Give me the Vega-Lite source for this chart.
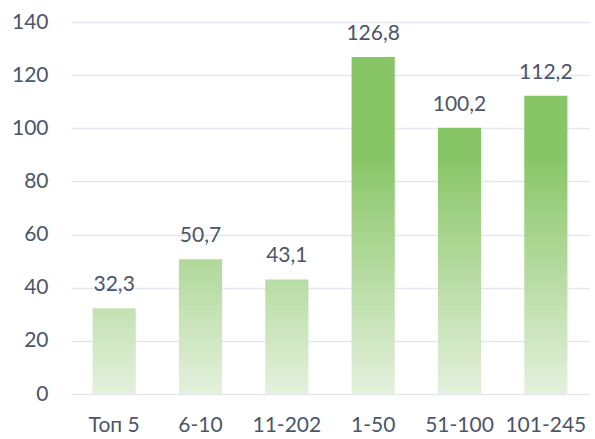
{
  "$schema": "https://vega.github.io/schema/vega-lite/v6.json",
  "width": 518,
  "height": 372,
  "autosize": {"type": "none"},
  "padding": {"left": 71, "top": 22, "right": 6, "bottom": 45},
  "background": "white",
  "config": {
    "view": {"stroke": null},
    "locale": {"number": {"decimal": ",", "thousands": " ", "grouping": [3], "currency": ["", ""]}},
    "font": "Lato"
  },
  "data": {
    "values": [
      {"cat": "Топ 5", "value": 32.3},
      {"cat": "6-10", "value": 50.7},
      {"cat": "11-202", "value": 43.1},
      {"cat": "1-50", "value": 126.8},
      {"cat": "51-100", "value": 100.2},
      {"cat": "101-245", "value": 112.2}
    ]
  },
  "encoding": {
    "x": {
      "field": "cat", "type": "nominal", "title": null,
      "sort": ["Топ 5", "6-10", "11-202", "1-50", "51-100", "101-245"],
      "scale": {"domain": ["Топ 5", "6-10", "11-202", "1-50", "51-100", "101-245"], "paddingInner": 0.5, "paddingOuter": 0.25},
      "axis": {"labelAngle": 0, "labelFontSize": 21, "labelColor": "#4b5669", "labelPadding": 20, "labelBaseline": "top", "ticks": false, "domain": false, "grid": false}
    },
    "y": {
      "field": "value", "type": "quantitative", "title": null,
      "scale": {"domain": [0, 140], "nice": false},
      "axis": {"values": [0, 20, 40, 60, 80, 100, 120, 140], "labelFontSize": 21, "labelColor": "#4b5669", "labelPadding": 23, "ticks": false, "domain": false, "gridColor": "#e4e8ee", "gridWidth": 1.5, "labelDy": -2}
    }
  },
  "layer": [
    {
      "transform": [{"filter": "datum.cat === 'Топ 5'"}],
      "mark": {"type": "bar", "color": {"gradient": "linear", "x1": 0, "y1": 1, "x2": 0, "y2": -1.786, "stops": [{"offset": 0, "color": "#e4f1dd"}, {"offset": 1, "color": "#88c566"}]}}
    },
    {
      "transform": [{"filter": "datum.cat === '6-10'"}],
      "mark": {"type": "bar", "color": {"gradient": "linear", "x1": 0, "y1": 1, "x2": 0, "y2": -0.775, "stops": [{"offset": 0, "color": "#e4f1dd"}, {"offset": 1, "color": "#88c566"}]}}
    },
    {
      "transform": [{"filter": "datum.cat === '11-202'"}],
      "mark": {"type": "bar", "color": {"gradient": "linear", "x1": 0, "y1": 1, "x2": 0, "y2": -1.088, "stops": [{"offset": 0, "color": "#e4f1dd"}, {"offset": 1, "color": "#88c566"}]}}
    },
    {
      "transform": [{"filter": "datum.cat === '1-50'"}],
      "mark": {"type": "bar", "color": {"gradient": "linear", "x1": 0, "y1": 1, "x2": 0, "y2": 0.290, "stops": [{"offset": 0, "color": "#e4f1dd"}, {"offset": 1, "color": "#88c566"}]}}
    },
    {
      "transform": [{"filter": "datum.cat === '51-100'"}],
      "mark": {"type": "bar", "color": {"gradient": "linear", "x1": 0, "y1": 1, "x2": 0, "y2": 0.102, "stops": [{"offset": 0, "color": "#e4f1dd"}, {"offset": 1, "color": "#88c566"}]}}
    },
    {
      "transform": [{"filter": "datum.cat === '101-245'"}],
      "mark": {"type": "bar", "color": {"gradient": "linear", "x1": 0, "y1": 1, "x2": 0, "y2": 0.198, "stops": [{"offset": 0, "color": "#e4f1dd"}, {"offset": 1, "color": "#88c566"}]}}
    },
    {
      "mark": {"type": "text", "baseline": "alphabetic", "dy": -17, "fontSize": 21, "color": "#4b5669"},
      "encoding": {
        "text": {"field": "value", "type": "quantitative", "format": ".1f"}
      }
    }
  ]
}
